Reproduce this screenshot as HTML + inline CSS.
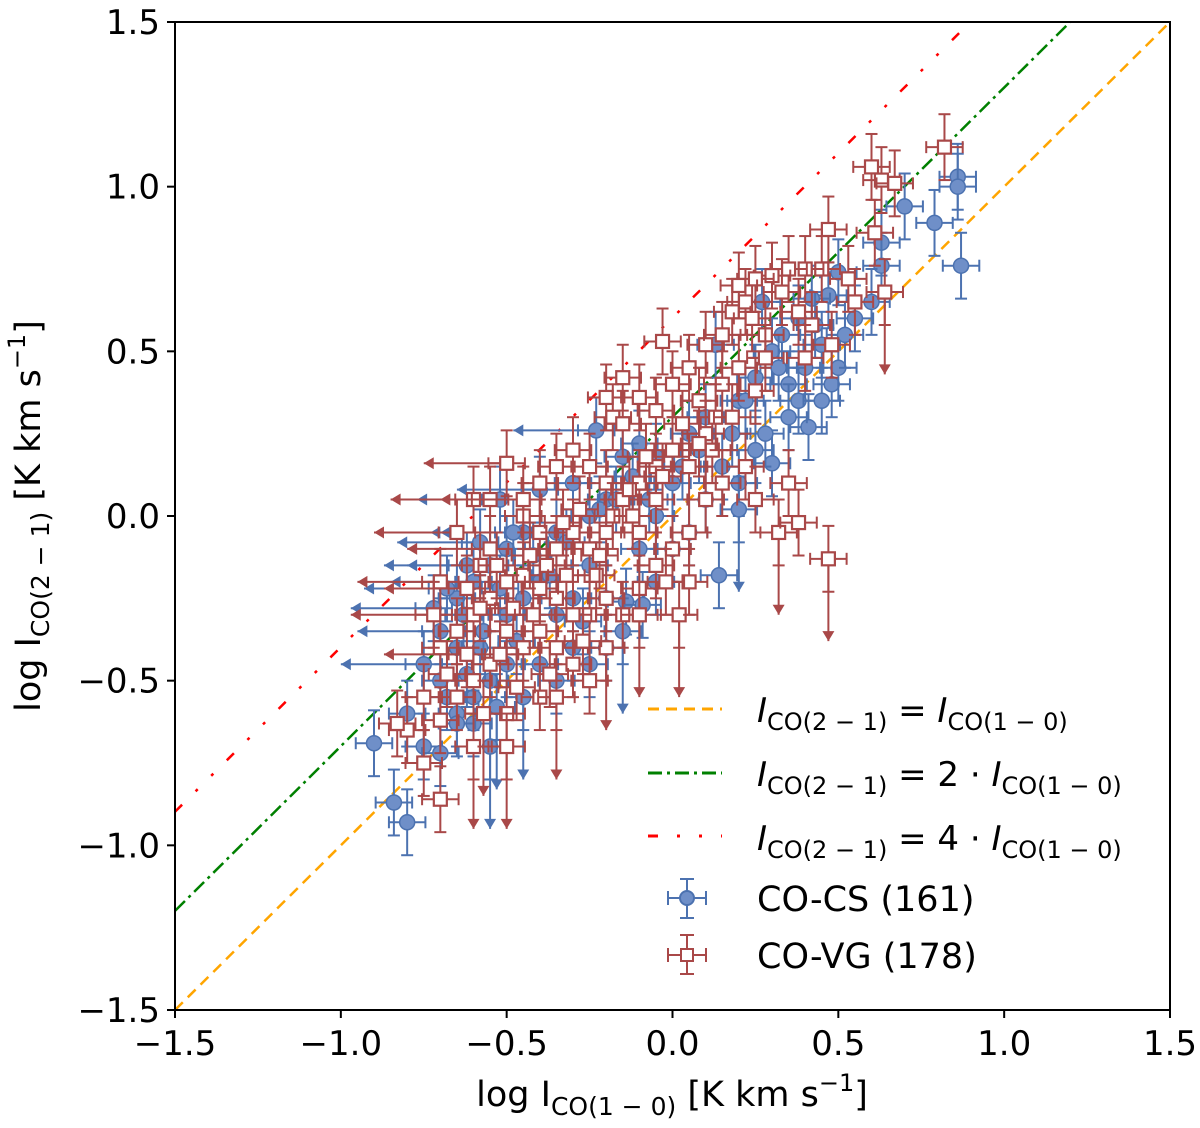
<!DOCTYPE html>
<html><head><meta charset="utf-8"><style>
body{margin:0;background:#fff}
svg{display:block;font-family:"DejaVu Sans","Liberation Sans",sans-serif}
</style></head><body>
<svg id="chart" width="1200" height="1128" viewBox="0 0 1200 1128" xmlns="http://www.w3.org/2000/svg">
<defs><clipPath id="clip"><rect x="175" y="22" width="995" height="988"/></clipPath></defs>
<g id="plot" clip-path="url(#clip)"></g>
<rect x="175" y="22" width="995" height="988" fill="none" stroke="#000" stroke-width="2"/>
<g id="axes"></g>
<text x="672" y="1106" font-size="35" text-anchor="middle">log I<tspan font-size="25" dy="9">CO(1 − 0)</tspan><tspan dy="-9"> [K km s</tspan><tspan font-size="24" dy="-15">−1</tspan><tspan dy="15">]</tspan></text>
<text transform="translate(40,516) rotate(-90)" font-size="35" text-anchor="middle">log I<tspan font-size="25" dy="9">CO(2 − 1)</tspan><tspan dy="-9"> [K km s</tspan><tspan font-size="24" dy="-15">−1</tspan><tspan dy="15">]</tspan></text>
<g id="legend">
 <line x1="648" y1="709" x2="722" y2="709" stroke="#ffa500" stroke-width="3" stroke-dasharray="11,7"/>
 <text x="757" y="722" font-size="34"><tspan font-style="italic">I</tspan><tspan font-size="24" dy="8">CO(2 − 1)</tspan><tspan dy="-8"> = </tspan><tspan font-style="italic">I</tspan><tspan font-size="24" dy="8">CO(1 − 0)</tspan></text>
 <line x1="648" y1="773" x2="722" y2="773" stroke="#008000" stroke-width="3" stroke-dasharray="14,5,3,5"/>
 <text x="757" y="786" font-size="34"><tspan font-style="italic">I</tspan><tspan font-size="24" dy="8">CO(2 − 1)</tspan><tspan dy="-8"> = 2 · </tspan><tspan font-style="italic">I</tspan><tspan font-size="24" dy="8">CO(1 − 0)</tspan></text>
 <line x1="648" y1="836" x2="722" y2="836" stroke="#ff0000" stroke-width="3" stroke-dasharray="10,19,3,19,3,19"/>
 <text x="757" y="850" font-size="34"><tspan font-style="italic">I</tspan><tspan font-size="24" dy="8">CO(2 − 1)</tspan><tspan dy="-8"> = 4 · </tspan><tspan font-style="italic">I</tspan><tspan font-size="24" dy="8">CO(1 − 0)</tspan></text>
 <g stroke="#4c72b0" stroke-width="2">
  <line x1="668" y1="898" x2="706" y2="898"/><line x1="668" y1="891" x2="668" y2="905"/><line x1="706" y1="891" x2="706" y2="905"/>
  <line x1="687" y1="879" x2="687" y2="918"/><line x1="680" y1="879" x2="694" y2="879"/><line x1="680" y1="918" x2="694" y2="918"/>
  <circle cx="687" cy="898" r="7" fill="#6f8fc8"/>
 </g>
 <text x="757" y="911" font-size="35">CO-CS (161)</text>
 <g stroke="#a94848" stroke-width="2">
  <line x1="668" y1="955" x2="706" y2="955"/><line x1="668" y1="948" x2="668" y2="962"/><line x1="706" y1="948" x2="706" y2="962"/>
  <line x1="687" y1="935" x2="687" y2="974"/><line x1="680" y1="935" x2="694" y2="935"/><line x1="680" y1="974" x2="694" y2="974"/>
  <rect x="681" y="949" width="12" height="12" fill="#fff"/>
 </g>
 <text x="757" y="968" font-size="35">CO-VG (178)</text>
</g>
</svg>
<script>
const xTicks=[-1.5,-1.0,-0.5,0.0,0.5,1.0,1.5];
const yTicks=[-1.5,-1.0,-0.5,0.0,0.5,1.0,1.5];
const ratioOffsets=[0,0.301,0.602];
// CO-CS: x, y, limit ('' / 'L' upper limit in x / 'D' upper limit in y)
const csX=[0.86,0.86,0.79,0.70,0.63,0.63,0.87,0.55,0.50,0.47,0.42,0.38,0.33,0.27,0.30,0.45,0.40,0.35,0.48,0.25,0.20,0.13,0.10,0.05,0.41,0.30,0.20,0.20,0.14,0.25,0.15,0.00,-0.05,-0.10,-0.23,-0.15,-0.20,-0.25,-0.30,-0.35,-0.40,-0.45,-0.50,-0.55,-0.60,-0.65,-0.50,-0.45,-0.40,-0.35,-0.30,-0.25,-0.20,-0.14,-0.09,-0.15,-0.30,-0.40,-0.50,-0.55,-0.60,-0.65,-0.70,-0.75,-0.70,-0.65,-0.60,-0.65,-0.55,-0.45,-0.35,-0.25,-0.20,-0.90,-0.84,-0.80,-0.80,-0.75,-0.70,-0.58,-0.48,-0.52,-0.58,-0.62,-0.68,-0.72,0.05,0.10,-0.05,0.00,0.35,0.38,0.45,0.50,0.52,0.60,0.28,-0.10,-0.05,0.22,
 -0.62,-0.57,-0.52,-0.47,-0.42,-0.37,-0.32,-0.27,-0.22,-0.17,-0.12,-0.07,0.03,0.08,0.18,0.32,0.43,-0.68,-0.63,-0.53];
const csY=[1.03,1.00,0.89,0.94,0.83,0.76,0.76,0.60,0.74,0.67,0.66,0.60,0.55,0.65,0.50,0.52,0.45,0.40,0.40,0.42,0.35,0.52,0.30,0.25,0.27,0.16,0.10,0.02,-0.18,0.20,0.15,0.10,0.18,0.22,0.26,0.18,0.05,0.00,0.10,-0.05,0.08,-0.05,-0.10,-0.15,-0.20,-0.25,-0.30,-0.25,-0.20,-0.30,-0.25,-0.15,-0.25,-0.26,-0.27,-0.35,-0.40,-0.45,-0.45,-0.50,-0.55,-0.60,-0.50,-0.45,-0.35,-0.40,-0.63,-0.63,-0.70,-0.55,-0.50,-0.45,-0.40,-0.69,-0.87,-0.93,-0.60,-0.70,-0.72,-0.40,-0.05,0.05,-0.08,-0.15,-0.22,-0.28,-0.05,0.05,0.00,-0.10,0.30,0.35,0.35,0.45,0.55,0.65,0.25,-0.10,-0.20,0.35,
 -0.48,-0.35,-0.22,-0.38,-0.12,-0.18,-0.08,-0.32,0.02,0.05,0.12,0.05,0.15,0.20,0.25,0.45,0.58,-0.55,-0.30,-0.58];
const csLim=['','','','','','','','','','','','','','','','','','','','','','','','','','','','D','','','','','','','L','','','','','','L','L','','L','L','','','','','','','','','','','D','','','','','','','','L','L','','','','D','D','','','','','','','','','','','L','L','L','L','L','L','','','','','','','','','','','','','','',
 '','','','','','','','','','','','','','','','','','','','D'];
// CO-VG
const vgX=[0.82,0.60,0.63,0.67,0.47,0.61,0.64,0.53,0.45,0.40,0.35,0.30,0.25,0.20,0.22,0.18,0.33,0.38,0.42,0.55,0.48,0.28,0.10,-0.03,-0.15,-0.10,-0.20,-0.18,-0.15,-0.05,0.00,0.05,0.08,0.15,0.20,0.25,0.10,0.00,-0.05,-0.10,-0.15,-0.20,-0.25,-0.30,-0.35,-0.40,-0.50,-0.60,-0.55,-0.65,-0.45,-0.40,-0.35,-0.30,-0.25,-0.20,-0.10,-0.05,0.00,0.05,0.10,0.15,0.22,0.35,0.32,0.38,0.25,0.02,0.05,-0.02,-0.10,-0.15,-0.20,-0.25,-0.30,-0.35,-0.40,-0.45,-0.50,-0.55,-0.60,-0.65,-0.50,-0.45,-0.40,-0.35,-0.30,-0.25,-0.55,-0.60,-0.65,-0.70,-0.75,-0.70,-0.80,-0.83,-0.75,-0.70,-0.60,-0.50,-0.40,-0.50,-0.20,-0.10,0.47,-0.70,-0.72,-0.55,-0.45,-0.62,-0.58,-0.05,0.05,0.12,-0.35,
 -0.58,-0.53,-0.48,-0.43,-0.38,-0.33,-0.28,-0.23,-0.18,-0.13,-0.08,-0.03,0.03,0.08,0.13,0.18,0.28,0.40,-0.62,-0.52,-0.42,-0.32,-0.22,-0.12,-0.68,-0.57,-0.47,-0.37,-0.27,0.15,0.24];
const vgY=[1.12,1.06,1.02,1.01,0.87,0.86,0.68,0.72,0.75,0.75,0.75,0.73,0.72,0.70,0.65,0.62,0.68,0.62,0.58,0.65,0.52,0.55,0.52,0.53,0.42,0.36,0.36,0.30,0.28,0.32,0.40,0.45,0.35,0.40,0.45,0.38,0.25,0.20,0.15,0.10,0.05,0.10,0.15,0.20,0.15,0.10,0.16,0.05,0.05,-0.05,0.00,-0.05,-0.10,-0.05,-0.10,-0.05,-0.05,-0.15,-0.10,-0.05,0.05,0.10,0.15,0.10,-0.05,-0.02,0.05,-0.30,-0.20,-0.20,-0.22,-0.30,-0.25,-0.30,-0.30,-0.25,-0.22,-0.18,-0.20,-0.25,-0.30,-0.35,-0.35,-0.40,-0.35,-0.40,-0.45,-0.50,-0.45,-0.50,-0.55,-0.40,-0.55,-0.62,-0.65,-0.63,-0.75,-0.86,-0.70,-0.60,-0.55,-0.70,-0.40,-0.30,-0.13,-0.20,-0.30,-0.10,0.05,-0.42,-0.15,0.05,0.15,0.20,-0.55,
 -0.28,-0.15,-0.28,-0.12,-0.15,-0.02,0.02,-0.18,0.00,0.08,0.18,0.12,0.28,0.22,0.30,0.30,0.48,0.48,-0.22,-0.42,-0.30,-0.18,-0.12,0.00,-0.48,-0.60,-0.52,-0.48,-0.38,0.55,0.60];
const vgLim=['','','','','','','D','','','','','','','','','','','','','','','','','','','','','','','','','','','','','','','','','','','','','','','','L','L','','L','','','','','','','','','','','','','','','D','','','D','','','','','','','','','','','','','','','','','','','','','','','','','','','','','','','D','','','D','D','D','D','L','L','L','L','L','','','','','D',
 '','','','','','','','','','','','','','','','','','','L','','','','','','','D','','','','',''];
const errX=0.055, errY=0.1, limLen=0.25;

const NS='http://www.w3.org/2000/svg';
const X0=175,X1=1170,Y0=1010,Y1=22;
const sx=v=>X0+(v+1.5)/3*(X1-X0);
const sy=v=>Y0-(v+1.5)/3*(Y0-Y1);
function mk(tag,attrs,parent){const e=document.createElementNS(NS,tag);for(const k in attrs)e.setAttribute(k,attrs[k]);parent.appendChild(e);return e;}
const plot=document.getElementById('plot'), axes=document.getElementById('axes');

xTicks.forEach(t=>{
 const g=mk('g',{},axes);
 
 
 mk('line',{x1:sx(t),y1:1010,x2:sx(t),y2:1018,stroke:'#000','stroke-width':2},g);
 const tx=mk('text',{x:sx(t),y:1055,'font-size':34,'text-anchor':'middle'},g);
 tx.textContent=t.toFixed(1).replace('-','−');
});
yTicks.forEach(t=>{
 const g=mk('g',{},axes);
 
 
 mk('line',{x1:167,y1:sy(t),x2:175,y2:sy(t),stroke:'#000','stroke-width':2},g);
 const tx=mk('text',{x:160,y:sy(t)+12,'font-size':34,'text-anchor':'end'},g);
 tx.textContent=t.toFixed(1).replace('-','−');
});

const lineStyles=[['#ffa500','11,7'],['#008000','14,5,3,5'],['#ff0000','10,19,3,19,3,19']];
const lineNames=['ratio-line-1','ratio-line-2','ratio-line-4'];
ratioOffsets.forEach((o,i)=>{
 const l=mk('line',{x1:sx(-1.5),y1:sy(-1.5+o),x2:sx(1.5),y2:sy(1.5+o),stroke:lineStyles[i][0],'stroke-width':2.5,'stroke-dasharray':lineStyles[i][1]},plot);
 
 
});

function drawSeries(xs,ys,lims,col,shape,name){
 const g=mk('g',{stroke:col,'stroke-width':2,fill:'none'},plot);
 
 
 for(let i=0;i<xs.length;i++){
  const p=mk('g',{},g);
  
  
  const cx=sx(xs[i]),cy=sy(ys[i]),lim=lims[i];
  const xl=sx(xs[i]-errX),xr=sx(xs[i]+errX),yt=sy(ys[i]+errY),yb=sy(ys[i]-errY);
  mk('line',{x1:xl,y1:cy,x2:xr,y2:cy},p);
  mk('line',{x1:xl,y1:cy-6,x2:xl,y2:cy+6},p);
  mk('line',{x1:xr,y1:cy-6,x2:xr,y2:cy+6},p);
  mk('line',{x1:cx,y1:yt,x2:cx,y2:yb},p);
  mk('line',{x1:cx-6,y1:yt,x2:cx+6,y2:yt},p);
  mk('line',{x1:cx-6,y1:yb,x2:cx+6,y2:yb},p);
  if(lim==='L'){const ax=sx(xs[i]-limLen);
   mk('line',{x1:cx,y1:cy,x2:ax,y2:cy},p);
   mk('polygon',{points:`${ax},${cy} ${ax+10},${cy-6} ${ax+10},${cy+6}`,fill:col,stroke:'none'},p);}
  if(lim==='D'){const ay=sy(ys[i]-limLen);
   mk('line',{x1:cx,y1:cy,x2:cx,y2:ay},p);
   mk('polygon',{points:`${cx},${ay} ${cx-6},${ay-10} ${cx+6},${ay-10}`,fill:col,stroke:'none'},p);}
  if(shape==='circle') mk('circle',{cx:cx,cy:cy,r:7.5,fill:'#6f8fc8',stroke:col,'stroke-width':1.5},p);
  else mk('rect',{x:cx-6.5,y:cy-6.5,width:13,height:13,fill:'#fff',stroke:col,'stroke-width':2.2},p);
 }
}
drawSeries(csX,csY,csLim,'#4c72b0','circle','co-cs-series');
drawSeries(vgX,vgY,vgLim,'#a94848','square','co-vg-series');
</script>
</body></html>
